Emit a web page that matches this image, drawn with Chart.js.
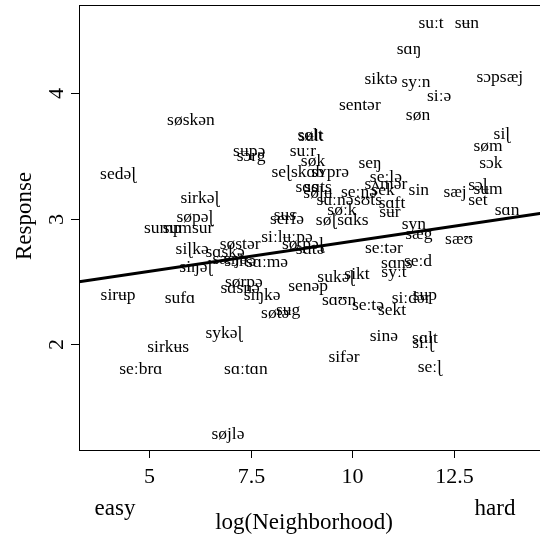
<!DOCTYPE html>
<html>
<head>
<meta charset="utf-8">
<script src="https://cdn.jsdelivr.net/npm/chart.js@4/dist/chart.umd.min.js"></script>
<style>
  html, body { margin: 0; padding: 0; background: #fff; overflow: hidden; }
  #wrap { width: 550px; height: 541px; }
</style>
</head>
<body>
<div id="wrap"><canvas id="c" width="550" height="541"></canvas></div>
<script>
// Words and their (log neighborhood, mean response) positions
const words = [
  "suːt","sʉn","sɑŋ","siktə","syːn","siːə","sɔpsæj","sentər","søn","siɭ",
  "søm","sɔk","seŋ","sølt","sʉlt","søskən","sʉpə","sɔrg","sedəɭ","sirkəɭ",
  "søpəɭ","sump","sumsur","siɭkə","siŋəɭ","søstər","sɑskə","sæŋə","sɔltə","siːlʉːpə",
  "søːpəɭ","sɑtə","sɑːmə","sørpə","sɑsnə","siŋkə","senəp","sukəɭ","sikt","syːt",
  "sɑns","seːd","seːtər","syn","sæg","sæʊ","sɑn","set","sæj","sɔɭ",
  "sʉm","sin","seːlə","sʌmər","sek","seːnə","sɑft","sʉr","suːnə","sʊts",
  "søːk","søɭ","sɑks","sɑts","søɭʉ","sɑs","seɭskɑb","sʏprə","suːr","søk",
  "serfə","sʉs","sirʉp","sufɑ","søtə","sʉg","sykəɭ","sirkʉs","seːbrɑ","sɑːtɑn",
  "søjlə","sɑʊn","seːtə","sekt","siːdər","sʉp","sinə","sɑlt","siːɭ","sifər",
  "seːɭ"
];
const wordX = [
  11.93,12.81,11.39,10.70,11.56,12.13,13.62,10.18,11.61,13.67,
  13.33,13.40,10.43,8.96,8.98,6.03,7.46,7.51,4.24,6.25,
  6.13,5.34,5.96,6.06,6.15,7.24,6.87,6.99,7.24,8.39,
  8.78,8.96,7.90,7.33,7.24,7.78,8.91,9.59,10.11,11.02,
  11.09,11.61,10.77,11.51,11.63,12.62,13.80,13.08,12.52,13.08,
  13.33,11.63,10.82,10.82,10.75,10.16,10.97,10.92,9.57,10.38,
  9.74,9.35,10.01,9.15,9.15,8.88,8.66,9.45,8.78,9.03,
  8.39,8.34,4.24,5.76,8.10,8.42,6.84,5.47,4.80,7.38,
  6.94,9.67,10.38,10.97,11.44,11.78,10.77,11.78,11.73,9.79,
  11.90
];
const wordY = [
  4.55,4.55,4.35,4.11,4.08,3.97,4.12,3.90,3.82,3.67,
  3.57,3.44,3.44,3.66,3.65,3.78,3.53,3.49,3.35,3.16,
  3.01,2.92,2.92,2.75,2.61,2.79,2.73,2.67,2.66,2.85,
  2.79,2.75,2.65,2.49,2.44,2.39,2.46,2.53,2.55,2.57,
  2.64,2.66,2.76,2.95,2.87,2.83,3.06,3.14,3.21,3.26,
  3.23,3.22,3.33,3.27,3.22,3.21,3.12,3.05,3.14,3.14,
  3.06,2.98,2.98,3.25,3.20,3.25,3.37,3.37,3.53,3.45,
  2.99,3.02,2.39,2.36,2.24,2.27,2.08,1.97,1.80,1.80,
  1.28,2.35,2.31,2.27,2.36,2.39,2.06,2.04,2.00,1.89,
  1.81
];

// Fitted regression line, end points
const fitX = [3.28, 14.73];
const fitY = [2.50, 3.05];

// Axis ticks
const xTicks = [5, 7.5, 10, 12.5];
const xTickLabels = ["5", "7.5", "10", "12.5"];
const yTicks = [2, 3, 4];
const yTickLabels = ["2", "3", "4"];

const SERIF = "'Liberation Serif', 'Times New Roman', serif";

const wordPoints = words.map((w, i) => ({ x: wordX[i], y: wordY[i] }));
const fitPoints = fitX.map((x, i) => ({ x: x, y: fitY[i] }));

const wordLabels = {
  id: 'wordLabels',
  beforeDatasetsDraw(chart) {
    const ctx = chart.ctx;
    const meta = chart.getDatasetMeta(0);
    ctx.save();
    ctx.fillStyle = '#000';
    ctx.font = '17.5px ' + SERIF;
    ctx.textAlign = 'center';
    ctx.textBaseline = 'alphabetic';
    meta.data.forEach((pt, i) => {
      ctx.fillText(words[i], pt.x, pt.y + 4);
    });
    ctx.restore();
  }
};

const frameAndAxes = {
  id: 'frameAndAxes',
  afterDatasetsDraw(chart) {
    const ctx = chart.ctx;
    const a = chart.chartArea;
    const xs = chart.scales.x, ys = chart.scales.y;
    ctx.save();
    ctx.strokeStyle = '#000';
    ctx.fillStyle = '#000';
    ctx.lineWidth = 1;
    // plot box
    ctx.strokeRect(Math.round(a.left) + 0.5, Math.round(a.top) + 0.5,
                   Math.round(a.right - a.left), Math.round(a.bottom - a.top));
    // x ticks
    ctx.font = '22px ' + SERIF;
    ctx.textAlign = 'center';
    ctx.textBaseline = 'alphabetic';
    xTicks.forEach((v, i) => {
      const px = Math.round(xs.getPixelForValue(v)) + 0.5;
      ctx.beginPath();
      ctx.moveTo(px, a.bottom);
      ctx.lineTo(px, a.bottom + 8);
      ctx.stroke();
      ctx.fillText(xTickLabels[i], px, 483);
    });
    // y ticks, labels parallel to the axis
    yTicks.forEach((v, i) => {
      const py = Math.round(ys.getPixelForValue(v)) + 0.5;
      ctx.beginPath();
      ctx.moveTo(a.left, py);
      ctx.lineTo(a.left - 8, py);
      ctx.stroke();
      ctx.save();
      ctx.translate(63, py);
      ctx.rotate(-Math.PI / 2);
      ctx.fillText(yTickLabels[i], 0, 0);
      ctx.restore();
    });
    // axis titles
    ctx.font = '23px ' + SERIF;
    ctx.fillText('log(Neighborhood)', 304, 529);
    ctx.fillText('easy', 115, 515);
    ctx.fillText('hard', 495, 515);
    ctx.save();
    ctx.translate(31, 216);
    ctx.rotate(-Math.PI / 2);
    ctx.fillText('Response', 0, 0);
    ctx.restore();
    ctx.restore();
  }
};

new Chart(document.getElementById('c'), {
  type: 'scatter',
  data: {
    datasets: [
      { data: wordPoints, pointRadius: 0, pointHoverRadius: 0, showLine: false },
      { data: fitPoints, showLine: true, borderColor: '#000', borderWidth: 3,
        pointRadius: 0, pointHoverRadius: 0, fill: false }
    ]
  },
  options: {
    responsive: false,
    animation: false,
    events: [],
    layout: { padding: { left: 79, top: 5, right: 5, bottom: 91 } },
    plugins: { legend: { display: false }, tooltip: { enabled: false } },
    scales: {
      x: { type: 'linear', min: 3.28, max: 14.73, display: false },
      y: { type: 'linear', min: 1.159, max: 4.705, display: false }
    }
  },
  plugins: [wordLabels, frameAndAxes]
});
</script>
</body>
</html>
